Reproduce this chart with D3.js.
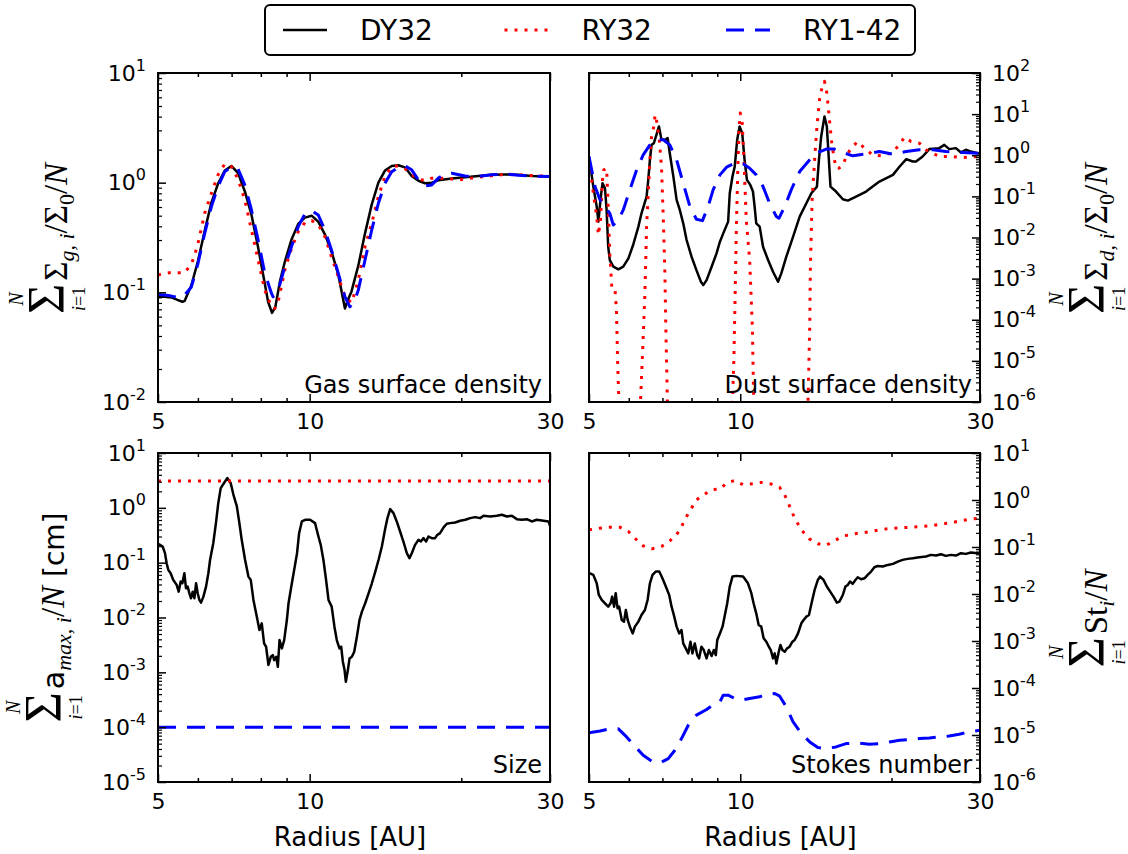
<!DOCTYPE html>
<html><head><meta charset="utf-8">
<script src="https://cdn.jsdelivr.net/npm/d3@7"></script>
<style>body{margin:0;background:#fff}svg{display:block}</style>
</head><body><svg id="c" width="1128" height="854"></svg>
<script>
// ---------------- data ----------------
const xDomain = [5, 30];
const xMajorTicks = [5, 10, 30];
const xMajorLabels = ['5', '10', '30'];
const xMinorTicks = [6, 7, 8, 9, 20];
const legendNames = ['DY32', 'RY32', 'RY1-42'];
const panelTitles = ['Gas surface density', 'Dust surface density', 'Size', 'Stokes number'];
const xAxisTitle = 'Radius [AU]';
const gasYExponents = [-2, -1, 0, 1];
const dustYExponents = [-6, -5, -4, -3, -2, -1, 0, 1, 2];
const sizeYExponents = [-5, -4, -3, -2, -1, 0, 1];
const stokesYExponents = [-6, -5, -4, -3, -2, -1, 0, 1];

// Gas surface density
const gasR_DY32 = [5.00,5.155,5.315,5.479,5.59,5.649,5.824,6.004,6.190,6.382,6.580,6.784,6.994,7.211,7.434,7.665,7.902,8.147,8.27,8.42,8.55,8.74,8.928,9.205,9.490,9.784,10.09,10.40,10.72,11.05,11.40,11.75,11.92,12.11,12.49,12.88,13.28,13.69,14.11,14.55,15.00,15.46,15.94,16.44,16.95,17.47,18.01,19.15,20.35,21.63,22.96,24.40,25.94,27.57,30];
const gasDY32 = [0.0911,0.0911,0.0898,0.0849,0.0820,0.0837,0.116,0.194,0.365,0.658,0.981,1.29,1.42,1.22,0.836,0.511,0.257,0.120,0.0820,0.0650,0.0738,0.129,0.190,0.304,0.420,0.480,0.500,0.441,0.338,0.236,0.145,0.0712,0.0861,0.102,0.175,0.345,0.631,1.00,1.29,1.42,1.44,1.38,1.15,1.04,0.988,1.00,1.05,1.09,1.12,1.15,1.18,1.19,1.18,1.15,1.14];
const gasR_RY32 = [5.00,5.155,5.315,5.479,5.649,5.824,5.913,6.004,6.190,6.382,6.580,6.784,6.994,7.211,7.434,7.665,7.902,8.147,8.400,8.53,8.660,8.928,9.205,9.490,9.784,10.09,10.40,10.72,11.05,11.40,11.75,12.11,12.30,12.49,12.88,13.28,13.69,14.11,14.55,15.00,15.46,15.94,16.44,16.95,17.47,18.57,19.74,20.98,22.30,24.40,26.74,30];
const gasRY32 = [0.144,0.149,0.152,0.151,0.151,0.181,0.219,0.280,0.526,0.801,1.18,1.48,1.40,1.075,0.696,0.370,0.197,0.1047,0.0738,0.0712,0.0820,0.160,0.252,0.357,0.432,0.451,0.417,0.322,0.211,0.139,0.0911,0.0803,0.101,0.129,0.261,0.426,0.747,1.14,1.40,1.42,1.34,1.19,1.075,1.045,1.10,1.10,1.06,1.10,1.14,1.19,1.17,1.14];
const gasR_RY142 = [5.00,5.155,5.315,5.479,5.563,5.649,5.824,6.004,6.190,6.382,6.580,6.784,6.994,7.211,7.434,7.665,7.902,8.147,8.400,8.46,8.660,8.928,9.205,9.490,9.784,10.09,10.40,10.72,11.05,11.40,11.75,12.02,12.30,12.49,12.88,13.28,13.69,14.11,14.55,15.00,15.46,15.94,16.44,16.95,17.47,18.01,18.57,19.15,20.35,21.63,22.96,24.40,25.94,27.57,30];
const gasRY142 = [0.0957,0.0944,0.0924,0.0898,0.0898,0.0944,0.112,0.184,0.345,0.605,0.922,1.26,1.40,1.33,0.954,0.564,0.300,0.149,0.0977,0.0911,0.1047,0.171,0.261,0.397,0.519,0.556,0.508,0.370,0.243,0.149,0.0911,0.0738,0.0849,0.1047,0.197,0.370,0.649,0.988,1.26,1.38,1.42,1.31,1.06,0.935,0.954,1.10,1.20,1.22,1.15,1.14,1.18,1.20,1.17,1.15,1.14];

// Dust surface density
const dustR_DY32 = [5.00,5.10,5.18,5.22,5.27,5.32,5.38,5.42,5.46,5.50,5.59,5.72,5.85,5.99,6.12,6.27,6.36,6.51,6.56,6.61,6.66,6.73,6.81,6.89,6.97,7.08,7.17,7.24,7.36,7.47,7.58,7.70,7.82,8.00,8.18,8.35,8.44,8.57,8.77,8.97,9.11,9.25,9.46,9.53,9.65,9.75,9.86,9.97,10.09,10.20,10.31,10.47,10.60,10.68,10.76,10.93,11.10,11.36,11.62,11.89,12.07,12.35,12.74,13.13,13.54,13.85,14.21,14.34,14.49,14.71,14.87,15.01,15.12,15.51,16.00,16.37,17.00,17.80,18.92,20.13,20.76,21.40,22.04,22.38,23.07,23.78,24.89,25.47,26.06,26.86,27.49,28.12,28.77,30];
const dustDY32 = [0.932,0.173,0.0564,0.0243,0.0820,0.209,0.158,0.0468,0.00598,0.00283,0.00195,0.00168,0.00195,0.00311,0.00656,0.0184,0.0388,0.0988,0.252,0.773,1.79,1.97,3.14,5.02,2.38,2.38,2.61,1.12,0.303,0.0820,0.0468,0.0221,0.00869,0.00341,0.00161,0.000839,0.000696,0.000922,0.00195,0.00411,0.00792,0.0126,0.0243,0.119,0.303,0.532,2.38,5.02,3.45,0.773,0.252,0.190,0.131,0.0564,0.0221,0.0184,0.00598,0.00283,0.00147,0.000839,0.00134,0.00341,0.0105,0.0322,0.0680,0.119,0.173,0.773,2.86,8.79,5.02,0.773,0.173,0.131,0.0851,0.0790,0.0988,0.131,0.229,0.333,0.532,0.803,0.704,0.704,0.932,1.41,1.49,1.79,1.41,1.49,1.17,1.36,1.23,1.08];
const dustR_RY32 = [5.00,5.10,5.18,5.22,5.27,5.32,5.35,5.42,5.46,5.50,5.55,5.63,5.67,5.70,5.73,5.76,6.29,6.33,6.39,6.46,6.51,6.56,6.61,6.66,6.73,6.77,6.83,6.90,6.97,7.03,7.08,7.11,7.16,7.20,9.59,9.65,9.71,9.77,9.83,9.90,9.95,10.00,10.09,10.17,10.28,10.44,10.57,10.63,10.70,13.56,13.64,13.75,13.79,13.90,14.06,14.21,14.38,14.56,14.71,14.87,15.05,15.21,15.35,15.51,15.70,16.00,16.24,16.62,17.13,17.80,18.35,19.07,19.96,20.76,21.21,21.87,22.72,23.42,24.89,26.06,27.70,30];
const dustRY32 = [0.773,0.119,0.0322,0.0115,0.0267,0.252,0.442,0.484,0.0564,0.00411,0.000634,0.000611,0.000171,1.04e-5,1.32e-6,1e-9,1e-9,1e-6,1.51e-5,0.000436,0.0184,0.119,0.773,2.86,5.02,9.66,6.05,2.38,0.532,0.0267,0.00134,6.72e-5,1.1e-6,1e-9,1e-9,1e-6,1.04e-5,0.000436,0.0267,0.773,5.02,10.6,6.05,0.773,0.0267,0.00283,6.72e-5,1.6e-6,1e-9,1e-9,1e-6,6.72e-5,0.00195,0.0820,0.773,5.02,22.4,47.3,62.7,32.6,7.29,1.97,0.932,0.484,0.484,0.552,0.932,1.49,2.16,1.36,1.02,0.968,1.12,1.79,2.76,2.16,1.97,1.36,0.932,0.932,0.881,0.932];
const dustR_RY142 = [5.00,5.14,5.26,5.38,5.50,5.59,5.72,5.85,6.03,6.22,6.41,6.61,6.81,7.03,7.24,7.47,7.70,7.94,8.18,8.41,8.63,8.83,9.11,9.39,9.75,10.13,10.44,10.76,11.10,11.44,11.80,11.94,12.26,12.63,13.13,13.75,14.27,14.83,15.40,16.00,16.74,17.80,18.92,20.13,21.40,22.72,24.15,25.66,27.70,30];
const dustRY142 = [0.932,0.173,0.0820,0.0564,0.0388,0.0202,0.0267,0.0468,0.144,0.442,1.02,1.79,2.38,2.38,1.79,0.773,0.209,0.0564,0.0277,0.0257,0.0564,0.144,0.333,0.513,0.641,0.618,0.484,0.333,0.173,0.0680,0.0322,0.0293,0.0564,0.144,0.402,0.773,1.17,1.41,1.41,1.17,0.968,1.08,1.23,1.06,1.23,1.36,1.36,1.23,1.17,1.12];

// Size
const sizeR_DY32 = [5.00,5.046,5.107,5.162,5.201,5.241,5.297,5.362,5.445,5.495,5.546,5.589,5.640,5.683,5.727,5.771,5.815,5.860,5.905,5.950,5.995,6.041,6.087,6.153,6.228,6.294,6.343,6.437,6.516,6.586,6.66,6.762,6.866,6.97,7.059,7.17,7.253,7.331,7.445,7.559,7.640,7.734,7.853,7.949,8.034,8.120,8.195,8.283,8.372,8.45,8.504,8.582,8.647,8.714,8.807,8.902,9.011,9.080,9.219,9.318,9.440,9.53,9.65,9.799,10.02,10.25,10.41,10.52,10.65,10.78,10.90,11.06,11.20,11.32,11.46,11.55,11.64,11.73,11.80,11.91,12.00,12.13,12.26,12.41,12.56,12.70,12.89,13.09,13.29,13.50,13.70,13.91,14.13,14.27,14.45,14.67,14.89,15.12,15.35,15.59,15.78,15.95,16.19,16.44,16.62,16.82,17.03,17.21,17.48,17.74,17.93,18.15,18.46,18.72,19.01,19.45,19.90,20.37,20.83,21.31,21.80,22.14,22.82,23.53,24.07,24.63,25.20,25.78,26.38,26.98,27.61,28.25,28.90,29.80,30];
const sizeDY32 = [0.22,0.211,0.197,0.149,0.0977,0.0738,0.0641,0.0484,0.0393,0.0296,0.0452,0.0421,0.0641,0.0341,0.0366,0.0276,0.0224,0.0296,0.0224,0.0421,0.0276,0.0209,0.0187,0.0240,0.0366,0.0641,0.112,0.227,0.526,1.22,2.29,2.83,3.49,2.83,1.73,1.06,0.526,0.261,0.112,0.0557,0.0484,0.0209,0.0104,0.00591,0.00782,0.00337,0.00293,0.00136,0.00192,0.00206,0.00167,0.00192,0.00126,0.00388,0.00273,0.00388,0.00900,0.0182,0.0421,0.0738,0.149,0.345,0.564,0.605,0.605,0.526,0.300,0.211,0.112,0.0484,0.0209,0.0158,0.00680,0.00388,0.00273,0.00293,0.00156,0.00110,0.000672,0.00110,0.00179,0.00192,0.00238,0.00447,0.00900,0.0128,0.0182,0.0276,0.0421,0.0688,0.112,0.197,0.426,0.649,0.948,0.801,0.564,0.370,0.243,0.149,0.121,0.149,0.211,0.261,0.243,0.280,0.243,0.300,0.280,0.280,0.322,0.345,0.444,0.512,0.526,0.541,0.580,0.605,0.649,0.677,0.649,0.716,0.696,0.716,0.747,0.696,0.716,0.622,0.605,0.622,0.564,0.605,0.588,0.564,0.470];
const sizeR_RY32 = [5, 30];
const sizeRY32 = [3.1, 3.1];
const sizeR_RY142 = [5, 30];
const sizeRY142 = [1.0e-4, 1.0e-4];

// Stokes number
const stR_DY32 = [5.00,5.02,5.10,5.18,5.23,5.30,5.38,5.46,5.52,5.56,5.61,5.65,5.70,5.74,5.81,5.87,5.92,5.97,6.03,6.11,6.17,6.27,6.36,6.46,6.54,6.61,6.69,6.79,6.90,7.00,7.11,7.22,7.30,7.39,7.47,7.56,7.64,7.70,7.79,7.88,7.96,8.03,8.12,8.21,8.28,8.37,8.46,8.57,8.66,8.77,8.86,8.94,9.00,9.11,9.22,9.32,9.42,9.53,9.65,9.83,10.13,10.36,10.52,10.63,10.76,10.88,11.01,11.13,11.27,11.40,11.50,11.62,11.71,11.80,11.91,12.02,12.13,12.26,12.39,12.54,12.70,12.83,13.03,13.23,13.37,13.54,13.70,13.91,14.06,14.27,14.42,14.65,14.87,15.10,15.33,15.57,15.75,16.00,16.19,16.37,16.54,16.74,16.95,17.13,17.40,17.67,17.93,18.21,18.49,18.78,19.21,19.66,20.13,20.58,21.05,21.54,22.04,22.72,23.42,23.96,24.52,25.09,25.66,26.26,26.86,27.49,28.12,28.77,29.67,30];
const stDY32 = [0.028,0.0276,0.0255,0.0169,0.00954,0.00746,0.00634,0.00538,0.00634,0.00879,0.00538,0.0104,0.00496,0.00538,0.00280,0.00258,0.00457,0.00280,0.00202,0.00145,0.00202,0.00258,0.00357,0.00457,0.00746,0.0169,0.0255,0.0300,0.0300,0.0216,0.0144,0.00954,0.00538,0.00330,0.00202,0.00145,0.00171,0.000889,0.000696,0.000545,0.000966,0.000545,0.000889,0.000502,0.000426,0.000756,0.000642,0.000426,0.000642,0.000478,0.000642,0.000502,0.00105,0.00145,0.00202,0.00357,0.00634,0.0144,0.0235,0.0243,0.0235,0.0169,0.0104,0.00634,0.00388,0.00219,0.00202,0.00114,0.000966,0.000756,0.000642,0.000426,0.000545,0.000333,0.000545,0.000820,0.000642,0.000591,0.000696,0.000756,0.000966,0.00105,0.00145,0.00238,0.00280,0.00330,0.00357,0.00746,0.0122,0.0199,0.0235,0.0199,0.0144,0.0112,0.00879,0.00655,0.00688,0.00954,0.0144,0.0156,0.0184,0.0164,0.0199,0.0227,0.0206,0.0216,0.0255,0.0300,0.0371,0.0396,0.0384,0.0416,0.0437,0.0490,0.0532,0.0559,0.0577,0.0607,0.0627,0.0680,0.0658,0.0703,0.0648,0.0680,0.0658,0.0738,0.0714,0.0762,0.0738,0.0738];
const stR_RY32 = [5.00,5.26,5.50,5.76,5.99,6.17,6.41,6.66,6.97,7.24,7.47,7.64,7.82,8.00,8.18,8.46,8.77,9.11,9.39,9.75,10.13,10.60,11.01,11.53,11.98,12.26,12.54,12.83,13.23,13.75,14.27,14.83,15.40,16.12,16.88,17.67,18.49,19.36,20.27,21.21,22.04,23.07,24.15,25.28,26.46,27.70,28.77,30];
const stRY32 = [0.232,0.252,0.264,0.264,0.214,0.154,0.106,0.0913,0.102,0.135,0.182,0.273,0.447,0.672,1.01,1.29,1.65,1.71,2.29,2.61,2.11,2.22,2.37,2.18,1.85,1.29,0.730,0.411,0.232,0.147,0.117,0.109,0.137,0.173,0.191,0.204,0.221,0.240,0.252,0.260,0.264,0.273,0.287,0.311,0.333,0.367,0.392,0.411];
const stR_RY142 = [5.00,5.26,5.50,5.72,5.94,6.17,6.41,6.66,6.92,7.19,7.41,7.64,7.88,8.18,8.57,8.90,9.11,9.25,9.46,9.75,10.06,10.44,10.93,11.27,11.71,11.98,12.35,12.74,13.23,13.75,14.27,14.83,15.51,16.24,17.13,18.08,19.07,19.81,20.76,21.70,22.72,23.78,24.89,26.06,27.27,28.55,30];
const stRY142 = [1.11e-5,1.22e-5,1.35e-5,1.35e-5,9.1e-6,5.76e-6,3.70e-6,2.80e-6,2.54e-6,3.14e-6,4.73e-6,8.39e-6,1.61e-5,2.64e-5,3.48e-5,4.68e-5,5.08e-5,7.04e-5,7.04e-5,5.98e-5,5.51e-5,5.98e-5,6.49e-5,7.40e-5,7.64e-5,6.70e-5,3.97e-5,1.90e-5,1.07e-5,7.13e-6,5.40e-6,5.14e-6,5.57e-6,6.57e-6,6.78e-6,6.35e-6,6.57e-6,7.13e-6,7.73e-6,7.99e-6,8.39e-6,8.67e-6,9.1e-6,9.57e-6,1.04e-5,1.16e-5,1.26e-5];

// ---------------- drawing ----------------
const svg = d3.select('#c');
svg.append('rect').attr('width', 1128).attr('height', 854).attr('fill', '#fff');

const styles = [
  {stroke: '#000000', width: 2.5, dash: null},
  {stroke: '#ff0000', width: 3, dash: '3,7'},
  {stroke: '#0000ff', width: 3, dash: '18,11'}
];
const SANS = 'DejaVu Sans';
const SERIF = 'Liberation Serif';

const panels = [
  {id: 'gas', x0: 158, x1: 550, y0: 73, y1: 402, exps: gasYExponents, side: 'left', title: panelTitles[0],
   series: [[gasR_DY32, gasDY32], [gasR_RY32, gasRY32], [gasR_RY142, gasRY142]]},
  {id: 'dust', x0: 589, x1: 980, y0: 73, y1: 402, exps: dustYExponents, side: 'right', title: panelTitles[1],
   series: [[dustR_DY32, dustDY32], [dustR_RY32, dustRY32], [dustR_RY142, dustRY142]]},
  {id: 'size', x0: 158, x1: 550, y0: 453, y1: 782, exps: sizeYExponents, side: 'left', title: panelTitles[2], xtitle: true,
   series: [[sizeR_DY32, sizeDY32], [sizeR_RY32, sizeRY32], [sizeR_RY142, sizeRY142]]},
  {id: 'stokes', x0: 589, x1: 980, y0: 453, y1: 782, exps: stokesYExponents, side: 'right', title: panelTitles[3], xtitle: true,
   series: [[stR_DY32, stDY32], [stR_RY32, stRY32], [stR_RY142, stRY142]]}
];

function styleTicks(g, w) {
  g.select('.domain').remove();
  g.selectAll('.tick line').attr('stroke', '#000').attr('stroke-width', w || 1.5);
}

panels.forEach(p => {
  const x = d3.scaleLog().domain(xDomain).range([p.x0, p.x1]);
  const yDom = [Math.pow(10, p.exps[0]), Math.pow(10, p.exps[p.exps.length - 1])];
  const y = d3.scaleLog().domain(yDom).range([p.y1, p.y0]);

  const clipId = 'clip-' + p.id;
  svg.append('clipPath').attr('id', clipId).append('rect')
    .attr('x', p.x0).attr('y', p.y0).attr('width', p.x1 - p.x0).attr('height', p.y1 - p.y0);
  const plot = svg.append('g').attr('clip-path', `url(#${clipId})`);

  const line = d3.line().x(d => x(d[0])).y(d => y(d[1]));
  p.series.forEach((s, i) => {
    const pts = s[0].map((r, k) => [r, s[1][k]]);
    const st = styles[i];
    plot.append('path').attr('d', line(pts)).attr('fill', 'none')
      .attr('stroke', st.stroke).attr('stroke-width', st.width)
      .attr('stroke-dasharray', st.dash).attr('stroke-linejoin', 'round');
  });

  // x axes (bottom & top, ticks inward)
  const xb = svg.append('g').attr('transform', `translate(0,${p.y1})`)
    .call(d3.axisBottom(x).tickValues(xMajorTicks).tickFormat((d, i) => xMajorLabels[i])
      .tickSizeInner(-8).tickSizeOuter(0).tickPadding(11));
  styleTicks(xb);
  xb.selectAll('.tick text').style('font-family', SANS).style('font-size', '22px').attr('fill', '#000');
  const xbm = svg.append('g').attr('transform', `translate(0,${p.y1})`)
    .call(d3.axisBottom(x).tickValues(xMinorTicks).tickFormat('').tickSizeInner(-4).tickSizeOuter(0));
  styleTicks(xbm);
  const xt = svg.append('g').attr('transform', `translate(0,${p.y0})`)
    .call(d3.axisTop(x).tickValues(xMajorTicks).tickFormat('').tickSizeInner(-8).tickSizeOuter(0));
  styleTicks(xt);
  const xtm = svg.append('g').attr('transform', `translate(0,${p.y0})`)
    .call(d3.axisTop(x).tickValues(xMinorTicks).tickFormat('').tickSizeInner(-4).tickSizeOuter(0));
  styleTicks(xtm);

  // y axis
  const majors = p.exps.map(e => Math.pow(10, e));
  const minors = [];
  for (let k = 0; k < p.exps.length - 1; k++) for (let m = 2; m <= 9; m++) minors.push(m * Math.pow(10, p.exps[k]));
  const left = p.side === 'left';
  const ax = left ? d3.axisLeft : d3.axisRight;
  const yPos = left ? p.x0 : p.x1;
  const ya = svg.append('g').attr('transform', `translate(${yPos},0)`)
    .call(ax(y).tickValues(majors).tickFormat('').tickSizeInner(-8).tickSizeOuter(0).tickPadding(12));
  styleTicks(ya);
  ya.selectAll('.tick text').each(function(d) {
    const t = d3.select(this).style('font-family', SANS).style('font-size', '22px').attr('fill', '#000');
    t.append('tspan').text('10');
    t.append('tspan').attr('dy', -10).style('font-size', '16px').text(String(Math.round(Math.log10(d))));
  });
  const yam = svg.append('g').attr('transform', `translate(${yPos},0)`)
    .call(ax(y).tickValues(minors).tickFormat('').tickSizeInner(-4).tickSizeOuter(0));
  styleTicks(yam, 1.2);

  // frame
  svg.append('rect').attr('x', p.x0).attr('y', p.y0).attr('width', p.x1 - p.x0).attr('height', p.y1 - p.y0)
    .attr('fill', 'none').attr('stroke', '#000').attr('stroke-width', 2);

  // panel title
  svg.append('text').attr('x', p.x1 - 8).attr('y', p.y1 - 9).attr('text-anchor', 'end')
    .style('font-family', SANS).style('font-size', '24px').text(p.title);

  if (p.xtitle) {
    svg.append('text').attr('x', (p.x0 + p.x1) / 2 - 4).attr('y', 846).attr('text-anchor', 'middle')
      .style('font-family', SANS).style('font-size', '26px').text(xAxisTitle);
  }
});

// ---------------- math y labels ----------------
function mathLabel(baseX, cy, pieces) {
  const outer = svg.append('g').attr('transform', `translate(${baseX},${cy}) rotate(-90)`);
  const inner = outer.append('g');
  const big = inner.append('text').attr('x', 0).attr('y', -3)
    .style('font-family', SERIF).style('font-size', '52px').text('Σ');
  const w = big.node().getComputedTextLength();
  inner.append('text').attr('x', w / 2).attr('y', -44).attr('text-anchor', 'middle')
    .style('font-family', SERIF).style('font-style', 'italic').style('font-size', '20px').text('N');
  const sub = inner.append('text').attr('x', w / 2).attr('y', 18).attr('text-anchor', 'middle')
    .style('font-family', SERIF).style('font-size', '18px');
  sub.append('tspan').style('font-style', 'italic').text('i');
  sub.append('tspan').text('=1');
  const main = inner.append('text').attr('x', w + 3).attr('y', 0);
  let cur = 0;
  pieces.forEach(pc => {
    const ts = main.append('tspan').text(pc.t)
      .style('font-family', pc.sans ? SANS : SERIF)
      .style('font-size', (pc.size || 33) + 'px')
      .style('font-style', pc.it ? 'italic' : 'normal');
    const shift = pc.sub ? 7 : 0;
    if (shift - cur !== 0) ts.attr('dy', shift - cur);
    cur = shift;
  });
  const bb = inner.node().getBBox();
  inner.attr('transform', `translate(${-(bb.x + bb.width / 2)},0)`);
}
mathLabel(67, 237.5, [{t: 'Σ'}, {t: 'g, i', size: 22, it: true, sub: true}, {t: '/'}, {t: 'Σ'}, {t: '0', size: 22, sub: true}, {t: '/'}, {t: 'N', it: true}]);
mathLabel(1107, 237.5, [{t: 'Σ'}, {t: 'd, i', size: 22, it: true, sub: true}, {t: '/'}, {t: 'Σ'}, {t: '0', size: 22, sub: true}, {t: '/'}, {t: 'N', it: true}]);
mathLabel(64, 617.5, [{t: 'a', sans: true, size: 30}, {t: 'max, i', size: 22, it: true, sub: true}, {t: '/'}, {t: 'N', it: true}, {t: ' [cm]', sans: true, size: 28}]);
mathLabel(1107, 617.5, [{t: 'St'}, {t: 'i', size: 22, it: true, sub: true}, {t: '/'}, {t: 'N', it: true}]);

// ---------------- legend ----------------
const lg = svg.append('g');
lg.append('rect').attr('x', 265).attr('y', 5).attr('width', 650).attr('height', 50).attr('rx', 5)
  .attr('fill', '#fff').attr('stroke', '#000').attr('stroke-width', 2);
const legendX = d3.scalePoint().domain(legendNames).range([283, 726]);
legendNames.forEach((n, i) => {
  const lx = legendX(n);
  const st = styles[i];
  lg.append('line').attr('x1', lx).attr('x2', lx + 44).attr('y1', 30).attr('y2', 30)
    .attr('stroke', st.stroke).attr('stroke-width', st.width).attr('stroke-dasharray', st.dash);
  lg.append('text').attr('x', lx + 77).attr('y', 40).style('font-family', SANS).style('font-size', '28px').text(n);
});
</script></body></html>
